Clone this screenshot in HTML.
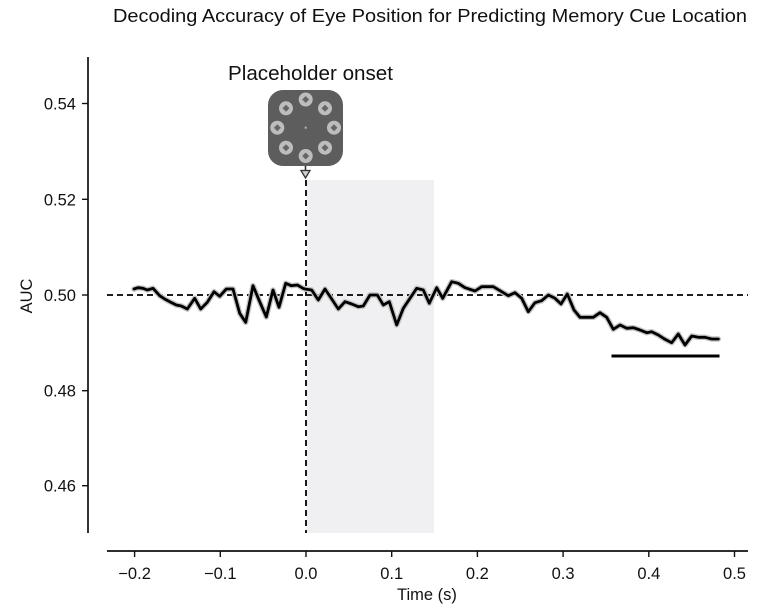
<!DOCTYPE html>
<html>
<head>
<meta charset="utf-8">
<style>
  html,body{margin:0;padding:0;background:#fff;}
  svg{display:block;}
  text{font-family:"Liberation Sans", Arial, sans-serif;fill:#111;}
</style>
</head>
<body>
<svg width="759" height="609" viewBox="0 0 759 609" xmlns="http://www.w3.org/2000/svg">
  <!-- title -->
  <text x="113" y="22" font-size="18.5" textLength="634" lengthAdjust="spacingAndGlyphs">Decoding Accuracy of Eye Position for Predicting Memory Cue Location</text>

  <!-- shaded window -->
  <rect x="306.5" y="180" width="127.5" height="353" fill="#f0f0f2"/>

  <!-- y axis -->
  <line x1="88" y1="57" x2="88" y2="533" stroke="#111" stroke-width="1.7"/>
  <g stroke="#111" stroke-width="1.4">
    <line x1="82" y1="103.5" x2="88" y2="103.5"/>
    <line x1="82" y1="199.3" x2="88" y2="199.3"/>
    <line x1="82" y1="295" x2="88" y2="295"/>
    <line x1="82" y1="390.7" x2="88" y2="390.7"/>
    <line x1="82" y1="485.7" x2="88" y2="485.7"/>
  </g>
  <g font-size="16.5" text-anchor="end">
    <text x="76" y="109.5">0.54</text>
    <text x="76" y="205.3">0.52</text>
    <text x="76" y="301">0.50</text>
    <text x="76" y="396.7">0.48</text>
    <text x="76" y="491.7">0.46</text>
  </g>
  <text font-size="16.5" text-anchor="middle" transform="translate(32,296) rotate(-90)">AUC</text>

  <!-- x axis -->
  <line x1="107" y1="551" x2="748" y2="551" stroke="#111" stroke-width="1.7"/>
  <g stroke="#111" stroke-width="1.4">
    <line x1="134.6" y1="551" x2="134.6" y2="557"/>
    <line x1="220.3" y1="551" x2="220.3" y2="557"/>
    <line x1="306" y1="551" x2="306" y2="557"/>
    <line x1="391.7" y1="551" x2="391.7" y2="557"/>
    <line x1="477.4" y1="551" x2="477.4" y2="557"/>
    <line x1="563.1" y1="551" x2="563.1" y2="557"/>
    <line x1="648.8" y1="551" x2="648.8" y2="557"/>
    <line x1="734.5" y1="551" x2="734.5" y2="557"/>
  </g>
  <g font-size="16.5" text-anchor="middle">
    <text x="134.6" y="579">−0.2</text>
    <text x="220.3" y="579">−0.1</text>
    <text x="306" y="579">0.0</text>
    <text x="391.7" y="579">0.1</text>
    <text x="477.4" y="579">0.2</text>
    <text x="563.1" y="579">0.3</text>
    <text x="648.8" y="579">0.4</text>
    <text x="734.5" y="579">0.5</text>
  </g>
  <text x="427" y="600" font-size="16.5" text-anchor="middle">Time (s)</text>

  <!-- dashed reference lines -->
  <line x1="107" y1="295" x2="748" y2="295" stroke="#000" stroke-width="1.8" stroke-dasharray="6,4"/>
  <line x1="306" y1="180" x2="306" y2="533" stroke="#000" stroke-width="1.8" stroke-dasharray="6,4"/>

  <!-- data -->
  <g fill="none" stroke-linejoin="round" stroke-linecap="round">
    <polyline stroke="#c4c4c4" stroke-width="5.5" points="134,289 138,287.7 143,288.3 147.3,290 153,288.3 159.7,295.7 164.7,299 169.7,301.7 176.3,305 181.3,306 187.3,309 194.7,298.3 200.7,309 207.3,302.3 214,291.7 219.7,296.3 226.3,289 233,289 239.7,313.3 245.7,322.3 253,285.7 259.7,301.7 266.3,317 273,290 279,307.3 285.7,283.3 291.3,285.7 297.3,285 303,288.3 305,289 311.7,290 318.3,300 325,289 331.7,299 338.3,309 345,301.7 351.7,304 358.3,306.7 363.3,306 370,295 377.3,295 383.3,305 389.3,301.7 396.7,325 403.3,308.3 410,298.3 416.7,288.3 423.3,290 429.3,303.3 436.7,287.7 442.7,298.3 451.7,281.7 458.3,283.3 465,287.7 475,291 481.7,286.7 493.3,286.7 501.7,291.7 508.3,295.7 515,292.7 521.7,298.3 528.3,311.7 535,302.7 541.7,300.7 548.3,295 555,298.3 561,304 567.3,294 574,310 580,317.3 586.7,317.3 593.3,317.3 600,312.7 606.7,317.3 613.3,329.3 620,325 626.7,328.3 633.3,327.7 640,330 646.7,332.7 651.7,331.7 658.3,335 665,339.3 671.7,342.7 678.3,334 685,345 691.7,336 698.3,337.3 705,337.3 711.7,339 718.3,339"/>
    <polyline stroke="#000" stroke-width="2.8" points="134,289 138,287.7 143,288.3 147.3,290 153,288.3 159.7,295.7 164.7,299 169.7,301.7 176.3,305 181.3,306 187.3,309 194.7,298.3 200.7,309 207.3,302.3 214,291.7 219.7,296.3 226.3,289 233,289 239.7,313.3 245.7,322.3 253,285.7 259.7,301.7 266.3,317 273,290 279,307.3 285.7,283.3 291.3,285.7 297.3,285 303,288.3 305,289 311.7,290 318.3,300 325,289 331.7,299 338.3,309 345,301.7 351.7,304 358.3,306.7 363.3,306 370,295 377.3,295 383.3,305 389.3,301.7 396.7,325 403.3,308.3 410,298.3 416.7,288.3 423.3,290 429.3,303.3 436.7,287.7 442.7,298.3 451.7,281.7 458.3,283.3 465,287.7 475,291 481.7,286.7 493.3,286.7 501.7,291.7 508.3,295.7 515,292.7 521.7,298.3 528.3,311.7 535,302.7 541.7,300.7 548.3,295 555,298.3 561,304 567.3,294 574,310 580,317.3 586.7,317.3 593.3,317.3 600,312.7 606.7,317.3 613.3,329.3 620,325 626.7,328.3 633.3,327.7 640,330 646.7,332.7 651.7,331.7 658.3,335 665,339.3 671.7,342.7 678.3,334 685,345 691.7,336 698.3,337.3 705,337.3 711.7,339 718.3,339"/>
  </g>

  <!-- significance bar -->
  <line x1="611.5" y1="356" x2="719.5" y2="356" stroke="#000" stroke-width="3"/>

  <!-- annotation -->
  <text x="228" y="80" font-size="20" textLength="165" lengthAdjust="spacingAndGlyphs">Placeholder onset</text>
  <rect x="268" y="90" width="75" height="76" rx="15" ry="15" fill="#5d5d5d"/>
  <g fill="#bdbdbd">
    <circle cx="305.7" cy="99.5" r="7"/>
    <circle cx="325" cy="108.3" r="7"/>
    <circle cx="334" cy="127.7" r="7"/>
    <circle cx="325" cy="147.7" r="7"/>
    <circle cx="305.7" cy="156" r="7"/>
    <circle cx="286" cy="147.7" r="7"/>
    <circle cx="277.3" cy="127.7" r="7"/>
    <circle cx="286" cy="108.3" r="7"/>
  </g>
  <g fill="#666">
    <polygon points="305.7,96 309.2,99.5 305.7,103 302.2,99.5"/>
    <polygon points="325,104.8 328.5,108.3 325,111.8 321.5,108.3"/>
    <polygon points="334,124.2 337.5,127.7 334,131.2 330.5,127.7"/>
    <polygon points="325,144.2 328.5,147.7 325,151.2 321.5,147.7"/>
    <polygon points="305.7,152.5 309.2,156 305.7,159.5 302.2,156"/>
    <polygon points="286,144.2 289.5,147.7 286,151.2 282.5,147.7"/>
    <polygon points="277.3,124.2 280.8,127.7 277.3,131.2 273.8,127.7"/>
    <polygon points="286,104.8 289.5,108.3 286,111.8 282.5,108.3"/>
  </g>
  <circle cx="305.7" cy="127.7" r="1.2" fill="#aaa"/>
  <!-- arrow -->
  <line x1="305.5" y1="166" x2="305.5" y2="171" stroke="#333" stroke-width="1.6"/>
  <polygon points="301,170.5 310,170.5 305.5,178" fill="#d0d0d0" stroke="#333" stroke-width="1.3"/>
</svg>
</body>
</html>
